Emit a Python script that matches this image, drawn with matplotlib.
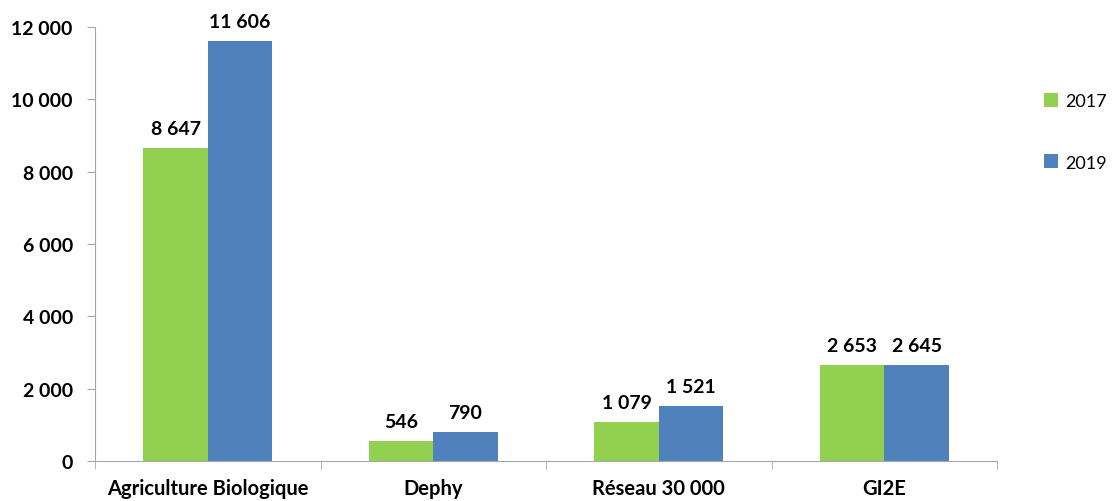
import matplotlib.pyplot as plt
import numpy as np

# categories and yearly counts
categories = ['Agriculture Biologique', 'Dephy', 'Réseau 30 000', 'GI2E']
years = ['2017', '2019']
values_2017 = [8647, 546, 1079, 2653]
values_2019 = [11606, 790, 1521, 2645]
y_ticks = [0, 2000, 4000, 6000, 8000, 10000, 12000]

colors = ['#92D050', '#4F81BD']
axis_color = '#A6A6A6'

plt.rcParams['font.family'] = ['Lato', 'DejaVu Sans']


def fmt(v):
    # thousands separated by a space
    return '{:,}'.format(v).replace(',', ' ')


fig = plt.figure(figsize=(11.13, 5.02), dpi=100)
ax = fig.add_axes([0.0854, 0.0797, 0.8104, 0.8645])

x = np.arange(len(categories))
width = 0.286

bars = []
for i, (year, vals) in enumerate(zip(years, [values_2017, values_2019])):
    b = ax.bar(x + (i - 0.5) * width, vals, width, color=colors[i], label=year)
    bars.append(b)
    for rect, v in zip(b, vals):
        ax.annotate(fmt(v), (rect.get_x() + rect.get_width() / 2, v),
                    xytext=(0, 8), textcoords='offset points',
                    ha='center', va='bottom', fontsize=14, fontweight='bold')

ax.set_xlim(-0.5, len(categories) - 0.5)
ax.set_ylim(0, 12000)
ax.set_yticks(y_ticks)
ax.set_yticklabels([fmt(v) for v in y_ticks], fontsize=14, fontweight='bold')

# category labels centred, tick marks between groups
ax.set_xticks(x)
ax.set_xticklabels(categories, fontsize=14.5, fontweight='bold')
ax.tick_params(axis='x', which='major', length=0, pad=12)
ax.set_xticks(np.arange(-0.5, len(categories)), minor=True)
ax.tick_params(axis='x', which='minor', length=6, color=axis_color, direction='out')
ax.tick_params(axis='y', length=6, color=axis_color, pad=10)

for side in ['top', 'right']:
    ax.spines[side].set_visible(False)
for side in ['left', 'bottom']:
    ax.spines[side].set_color(axis_color)

fig.legend(handles=bars, labels=years, loc='upper left',
           bbox_to_anchor=(0.923, 0.845), frameon=False, fontsize=13,
           handlelength=0.8, handleheight=0.8, handletextpad=0.4,
           labelspacing=2.5)

fig.savefig('out.png', dpi=100)
